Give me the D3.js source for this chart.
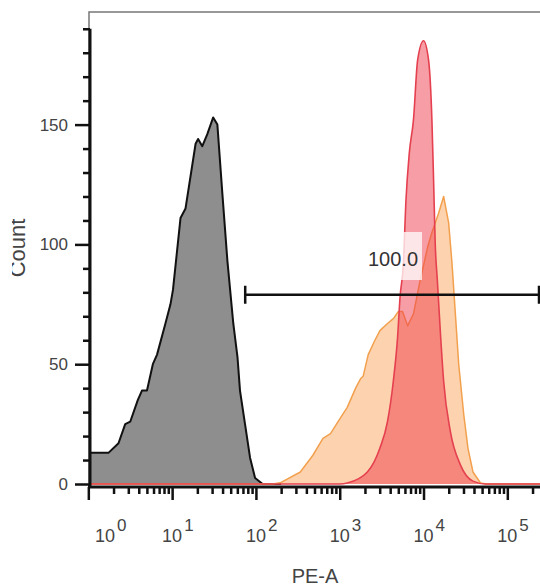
<!DOCTYPE html>
<html>
<head>
<meta charset="utf-8">
<title>PE-A histogram</title>
<script src="https://cdn.jsdelivr.net/npm/d3@7"></script>
<style>
  body { margin: 0; background: #fff; }
  svg { display: block; font-family: "Liberation Sans", Arial, sans-serif; }
</style>
</head>
<body>
<div id="chart"></div>
<script>
var grayLog   = [0.02, 0.24, 0.36, 0.44, 0.50, 0.59, 0.64, 0.70, 0.77, 0.82, 0.92, 0.98, 1.01, 1.10, 1.16, 1.28, 1.31, 1.36, 1.42, 1.49, 1.54, 1.60, 1.66, 1.73, 1.78, 1.81, 1.87, 1.93, 1.99, 2.08, 2.30];
var grayCount = [13, 13, 17, 25, 26, 35, 39, 39, 50, 54, 67, 75, 81, 111, 115, 142, 144, 141, 146, 153, 150, 121, 93, 67, 53, 39, 25, 11, 2.5, 0, 0];

var orangeLog   = [0.02, 2.20, 2.29, 2.53, 2.68, 2.80, 2.89, 2.98, 3.09, 3.19, 3.25, 3.28, 3.34, 3.42, 3.48, 3.57, 3.64, 3.70, 3.75, 3.81, 3.88, 3.96, 4.05, 4.10, 4.18, 4.24, 4.30, 4.34, 4.38, 4.42, 4.48, 4.53, 4.59, 4.68, 4.75, 5.39];
var orangeCount = [0, 0, 0.5, 5, 12, 19, 21, 26, 32, 40, 44, 45, 54, 60, 64, 67, 69, 72, 72, 66, 71, 85, 99, 105, 113, 120, 109, 92, 71, 50, 29, 15, 5, 0.4, 0, 0];

var redLog   = [0.02, 3.00, 3.09, 3.33, 3.48, 3.57, 3.64, 3.69, 3.72, 3.76, 3.79, 3.83, 3.88, 3.93, 4.00, 4.06, 4.10, 4.12, 4.14, 4.165, 4.20, 4.24, 4.32, 4.44, 4.59, 4.74, 5.39];
var redCount = [0, 0, 0.4, 5, 15, 26, 43, 61, 78, 92, 118, 138, 152, 177, 185, 177, 152, 127, 100, 85, 64, 43, 22, 8, 1.2, 0, 0];

var xMajor = [1, 10, 100, 1000, 10000, 100000];
var xExp = ['0', '1', '2', '3', '4', '5'];
var yMajor = [0, 50, 100, 150];
var yMinor = [10, 20, 30, 40, 60, 70, 80, 90, 110, 120, 130, 140, 160, 170, 180, 190];

var gateFrom = 74.5;   // gate start, PE-A
var gateLabel = '100.0';

var W = 540, H = 587;
var pLeft = 90, pRight = 540, pTop = 12, pBottom = 484;

var svg = d3.select('#chart').append('svg')
    .attr('width', W)
    .attr('height', H);

var x = d3.scaleLog()
    .domain([Math.pow(10, 0.02), Math.pow(10, 5.39)])
    .range([pLeft, pRight]);

var y = d3.scaleLinear()
    .domain([0, 197])
    .range([pBottom, pTop]);

function pts(logs, counts) {
    return logs.map((d, i) => [Math.pow(10, d), counts[i]]);
}

var area = d3.area()
    .x(d => x(d[0]))
    .y0(y(0))
    .y1(d => y(d[1]));

var line = d3.line()
    .x(d => x(d[0]))
    .y(d => y(d[1]));

// frame
svg.append('path')
    .attr('d', `M${pLeft - 1},${pBottom + 3}V${pTop}H${W + 5}`)
    .attr('fill', 'none')
    .attr('stroke', '#777')
    .attr('stroke-width', 1.5);

var hist = [
    { data: pts(grayLog, grayCount), fill: '#8e8e8e', op: 1, stroke: '#111', sw: 2, curve: d3.curveLinear },
    { data: pts(orangeLog, orangeCount), fill: '#fba860', op: 0.5, stroke: '#f2a04e', sw: 1.5, curve: d3.curveLinear },
    { data: pts(redLog, redCount), fill: '#f03c4c', op: 0.5, stroke: '#e5404f', sw: 1.6, curve: d3.curveMonotoneX }
];

hist.forEach(h => {
    svg.append('path')
        .attr('d', area.curve(h.curve)(h.data))
        .attr('fill', h.fill)
        .attr('fill-opacity', h.op);
    svg.append('path')
        .attr('d', line.curve(h.curve)(h.data))
        .attr('fill', 'none')
        .attr('stroke', h.stroke)
        .attr('stroke-width', h.sw)
        .attr('stroke-linejoin', 'round');
});

// gate
var gy = y(79);
svg.append('rect')
    .attr('x', 365).attr('y', 232)
    .attr('width', 57).attr('height', 48)
    .attr('fill', '#fff')
    .attr('fill-opacity', 0.75);
svg.append('text')
    .attr('x', 393).attr('y', 266)
    .attr('text-anchor', 'middle')
    .attr('font-size', 20)
    .attr('fill', '#333')
    .text(gateLabel);
svg.append('path')
    .attr('d', `M${x(gateFrom)},${gy}H${pRight - 1}M${x(gateFrom)},${gy - 9}V${gy + 9}M${pRight - 1},${gy - 9}V${gy + 9}`)
    .attr('stroke', '#111')
    .attr('stroke-width', 2.5)
    .attr('fill', 'none');

// y axis
var yAxis = svg.append('g')
    .attr('transform', `translate(${pLeft},0)`)
    .call(d3.axisLeft(y).tickValues(yMajor).tickSize(15).tickPadding(7).tickSizeOuter(0));
yAxis.append('g')
    .call(d3.axisLeft(y).tickValues(yMinor).tickSize(7).tickFormat(''));
yAxis.selectAll('.domain').remove();
yAxis.selectAll('line').attr('stroke', '#111').attr('stroke-width', 2.5);
yAxis.selectAll('text')
    .attr('font-size', 17)
    .attr('fill', '#444')
    .attr('font-family', '"Liberation Sans", Arial, sans-serif');
yAxis.append('line')
    .attr('x1', 0).attr('x2', 0)
    .attr('y1', y(190)).attr('y2', pBottom + 4)
    .attr('stroke', '#111').attr('stroke-width', 3);

// x axis
var xMinor = [];
xMajor.forEach(v => {
    for (var k = 2; k <= 9; k++) {
        if (v * k < x.domain()[1]) xMinor.push(v * k);
    }
});
var axY = pBottom + 3;
var xAxis = svg.append('g')
    .attr('transform', `translate(0,${axY})`)
    .call(d3.axisBottom(x).tickValues(xMajor).tickSize(13).tickFormat('').tickSizeOuter(0));
xAxis.append('g')
    .call(d3.axisBottom(x).tickValues(xMinor).tickSize(7).tickFormat(''));
xAxis.selectAll('.domain').remove();
xAxis.selectAll('line').attr('stroke', '#111').attr('stroke-width', 2.5);
xAxis.append('line')
    .attr('x1', pLeft - 2).attr('x2', W)
    .attr('stroke', '#111').attr('stroke-width', 3);

// decade labels
var lab = svg.append('g')
    .attr('fill', '#444');
xMajor.forEach((v, i) => {
    var cx = i === 0 ? 105 : x(v);
    var t = lab.append('text')
        .attr('x', cx - 10)
        .attr('y', 542)
        .attr('font-size', 18);
    t.append('tspan').text('10');
    t.append('tspan')
        .attr('dx', 2)
        .attr('dy', -11)
        .attr('font-size', 17)
        .text(xExp[i]);
});

// axis titles
svg.append('text')
    .attr('x', (pLeft + pRight) / 2)
    .attr('y', 583)
    .attr('text-anchor', 'middle')
    .attr('font-size', 20)
    .attr('fill', '#444')
    .text('PE-A');

svg.append('clipPath')
    .attr('id', 'cut')
    .append('rect')
    .attr('x', 12).attr('y', 0)
    .attr('width', 60).attr('height', H);

svg.append('g')
    .attr('clip-path', 'url(#cut)')
    .append('text')
    .attr('transform', `translate(25,${(pTop + pBottom) / 2}) rotate(-90)`)
    .attr('text-anchor', 'middle')
    .attr('font-size', 22)
    .attr('fill', '#444')
    .text('Count');
</script>
</body>
</html>
